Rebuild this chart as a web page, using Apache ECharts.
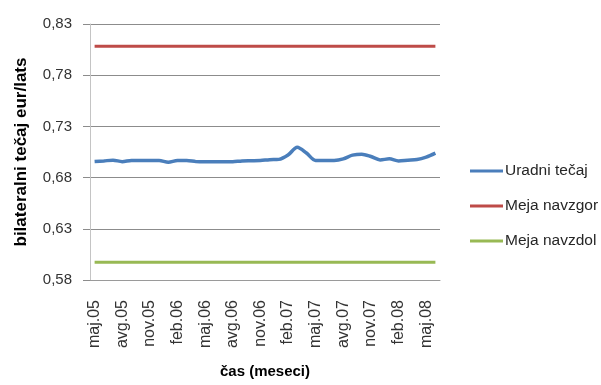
<!DOCTYPE html>
<html>
<head>
<meta charset="utf-8">
<script src="https://cdn.jsdelivr.net/npm/echarts@6/dist/echarts.min.js"></script>
<style>
  html, body { margin: 0; padding: 0; background: #fff; }
  #chart { width: 601px; height: 385px; }
</style>
</head>
<body>
<div id="chart"></div>
<script>
// Months, May 2005 – June 2008
const months = [
  'maj.05', 'jun.05', 'jul.05', 'avg.05', 'sep.05', 'okt.05', 'nov.05', 'dec.05',
  'jan.06', 'feb.06', 'mar.06', 'apr.06', 'maj.06', 'jun.06', 'jul.06', 'avg.06',
  'sep.06', 'okt.06', 'nov.06', 'dec.06', 'jan.07', 'feb.07', 'mar.07', 'apr.07',
  'maj.07', 'jun.07', 'jul.07', 'avg.07', 'sep.07', 'okt.07', 'nov.07', 'dec.07',
  'jan.08', 'feb.08', 'mar.08', 'apr.08', 'maj.08', 'jun.08'
];

// Official EUR/LVL rate
const uradniTecaj = [
  0.6957, 0.6963, 0.6970, 0.6956, 0.6967, 0.6967, 0.6967, 0.6967,
  0.6950, 0.6967, 0.6967, 0.6956, 0.6954, 0.6954, 0.6954, 0.6955,
  0.6963, 0.6965, 0.6967, 0.6975, 0.6978, 0.7020, 0.7097, 0.7040,
  0.6967, 0.6966, 0.6967, 0.6983, 0.7019, 0.7029, 0.7006, 0.6973,
  0.6983, 0.6963, 0.6970, 0.6976, 0.7000, 0.7039
];

// Upper fluctuation limit
const mejaNavzgor = [
  0.8082, 0.8082, 0.8082, 0.8082, 0.8082, 0.8082, 0.8082, 0.8082,
  0.8082, 0.8082, 0.8082, 0.8082, 0.8082, 0.8082, 0.8082, 0.8082,
  0.8082, 0.8082, 0.8082, 0.8082, 0.8082, 0.8082, 0.8082, 0.8082,
  0.8082, 0.8082, 0.8082, 0.8082, 0.8082, 0.8082, 0.8082, 0.8082,
  0.8082, 0.8082, 0.8082, 0.8082, 0.8082, 0.8082
];

// Lower fluctuation limit
const mejaNavzdol = [
  0.5974, 0.5974, 0.5974, 0.5974, 0.5974, 0.5974, 0.5974, 0.5974,
  0.5974, 0.5974, 0.5974, 0.5974, 0.5974, 0.5974, 0.5974, 0.5974,
  0.5974, 0.5974, 0.5974, 0.5974, 0.5974, 0.5974, 0.5974, 0.5974,
  0.5974, 0.5974, 0.5974, 0.5974, 0.5974, 0.5974, 0.5974, 0.5974,
  0.5974, 0.5974, 0.5974, 0.5974, 0.5974, 0.5974
];

const seriesNames = ['Uradni tečaj', 'Meja navzgor', 'Meja navzdol'];
const seriesColors = ['#4A7EBB', '#BE4B48', '#98B954'];

const FONT = 'Liberation Sans, Arial, sans-serif';

const chart = echarts.init(document.getElementById('chart'), null, { renderer: 'canvas' });

chart.setOption({
  animation: false,
  backgroundColor: '#ffffff',
  textStyle: { fontFamily: FONT },
  grid: { left: 90, right: 161, top: 24, bottom: 105, containLabel: false },
  legend: {
    orient: 'vertical',
    left: 470,
    top: 162,
    padding: 0,
    itemWidth: 33,
    itemHeight: 3,
    itemGap: 17,
    icon: 'rect',
    data: seriesNames,
    textStyle: { fontFamily: FONT, fontSize: 15.5, color: '#262626', lineHeight: 18, padding: [0, 0, 0, -3] }
  },
  xAxis: {
    type: 'category',
    data: months,
    boundaryGap: true,
    name: 'čas (meseci)',
    nameLocation: 'middle',
    nameGap: 84,
    nameTextStyle: { fontFamily: FONT, fontSize: 15, fontWeight: 'bold', color: '#000' },
    axisLine: { lineStyle: { color: '#9a9a9a', width: 1 } },
    axisTick: { show: false },
    axisLabel: {
      interval: 2,
      rotate: 90,
      margin: 20,
      fontFamily: FONT,
      fontSize: 16,
      color: '#333'
    },
    splitLine: { show: false }
  },
  yAxis: {
    type: 'value',
    min: 0.58,
    max: 0.83,
    interval: 0.05,
    name: 'bilateralni tečaj eur/lats',
    nameLocation: 'middle',
    nameGap: 60,
    nameTextStyle: { fontFamily: FONT, fontSize: 17, fontWeight: 'bold', color: '#000' },
    axisLine: { show: true, lineStyle: { color: '#c4c4c4', width: 1 } },
    axisTick: { show: true, inside: false, length: 7, lineStyle: { color: '#8c8c8c' } },
    axisLabel: {
      margin: 18,
      fontFamily: FONT,
      fontSize: 15,
      color: '#333',
      formatter: v => v.toFixed(2).replace('.', ',')
    },
    splitLine: { show: true, lineStyle: { color: '#8c8c8c', width: 1 } }
  },
  series: [
    {
      name: seriesNames[0], type: 'line', data: uradniTecaj, smooth: 0.3,
      showSymbol: false, symbol: 'none',
      lineStyle: { color: seriesColors[0], width: 3.5 }, itemStyle: { color: seriesColors[0] }
    },
    {
      name: seriesNames[1], type: 'line', data: mejaNavzgor,
      showSymbol: false, symbol: 'none',
      lineStyle: { color: seriesColors[1], width: 3 }, itemStyle: { color: seriesColors[1] }
    },
    {
      name: seriesNames[2], type: 'line', data: mejaNavzdol,
      showSymbol: false, symbol: 'none',
      lineStyle: { color: seriesColors[2], width: 3 }, itemStyle: { color: seriesColors[2] }
    }
  ]
});
</script>
</body>
</html>
